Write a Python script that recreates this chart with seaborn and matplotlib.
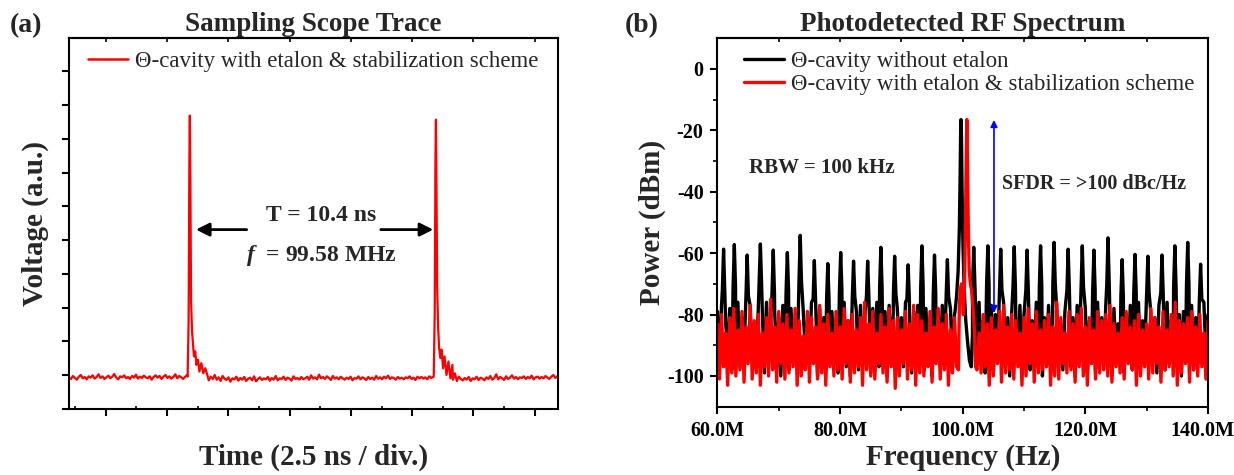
import numpy as np
import matplotlib
matplotlib.use("Agg")
import matplotlib.pyplot as plt
import matplotlib.transforms as mtransforms
import seaborn as sns

# ---------------- data: panel (a) sampling scope trace ----------------
T_START, T_END = 0.0, 20.0          # ns
scope_noise = [
    0.93, 0.88, 0.97, 0.91, 0.86, 0.95, 1.00, 0.90, 0.94, 0.87,
    0.96, 0.92, 0.99, 0.89, 0.94, 1.02, 0.91, 0.96, 0.88, 0.93,
    0.98, 0.90, 0.95, 1.03, 0.92, 0.87, 0.96, 0.93, 0.99, 0.90,
    0.94, 0.88, 0.97, 0.92, 1.01, 0.89, 0.95, 0.91, 0.98, 0.93,
    0.90, 0.96, 0.86, 0.94, 0.99, 0.92, 0.97, 0.88, 0.95, 1.00,
    0.91, 0.96, 0.89, 0.94, 1.02, 0.90, 0.97, 0.93, 0.88, 0.95,
    0.99, 0.92, 0.96, 0.90, 0.94, 0.98, 0.89, 0.93, 0.97, 0.91,
    1.05, 0.84, 0.95, 0.88, 1.00, 0.86, 0.93, 0.82, 0.97, 0.89,
    0.85, 0.93, 0.80, 0.90, 0.87, 0.95, 0.83, 0.91, 0.86, 0.94,
    0.82, 0.89, 0.92, 0.84, 0.96, 0.81, 0.88, 0.93, 0.85, 0.90,
    0.87, 0.94, 0.83, 0.91, 0.86, 0.97, 0.84, 0.90, 0.88, 0.95,
    0.85, 0.92, 0.89, 0.83, 0.96, 0.88, 0.91, 0.86, 0.94, 0.87,
    0.90, 0.95, 0.86, 0.99, 0.89, 0.93, 0.87, 1.01, 0.90, 0.94,
    0.88, 0.96, 0.91, 0.85, 0.97, 0.89, 0.93, 0.87, 0.95, 0.90,
    0.86, 0.92, 0.88, 0.95, 0.84, 0.91, 0.89, 0.96, 0.87, 0.93,
    0.90, 0.85, 0.94, 0.88, 0.92, 0.86, 0.97, 0.89, 0.93, 0.87,
    0.95, 0.90, 0.98, 0.88, 0.93, 0.91, 0.86, 0.94, 0.89, 0.92,
    0.87, 0.93, 0.90, 0.96, 0.88, 0.92, 0.85, 0.95, 0.90, 0.94,
    0.89, 0.93, 0.87, 0.96, 0.91, 0.94, 0.90, 0.88, 0.95, 0.92,
    1.02, 0.84, 0.97, 0.80, 0.93, 0.86, 1.05, 0.82, 0.95, 0.88,
    0.84, 0.91, 0.86, 0.94, 0.82, 0.90, 0.87, 0.95, 0.85, 0.92,
    0.89, 0.84, 0.93, 0.88, 0.97, 0.86, 0.91, 1.02, 0.87, 0.94,
    0.90, 0.85, 0.96, 0.88, 0.92, 0.99, 0.89, 0.94, 0.87, 0.93,
    0.91, 0.96, 0.88, 0.94, 0.90, 0.98, 0.87, 0.93, 0.95, 0.89,
    0.94, 0.90, 0.97, 0.92, 0.88, 0.95, 1.00, 0.91, 0.96, 0.93,
]
pulse1_t = [4.84, 4.88, 4.91, 4.93, 4.95, 4.98, 5.02, 5.06, 5.10, 5.15, 5.20, 5.26, 5.32, 5.40, 5.48, 5.56]
pulse1_v = [0.95, 2.60, 7.20, 8.69, 7.00, 3.20, 2.30, 1.90, 1.55, 1.70, 1.30, 1.45, 1.10, 1.35, 1.05, 1.20]
pulse2_t = [14.88, 14.92, 14.95, 14.97, 14.99, 15.02, 15.06, 15.10, 15.15, 15.20, 15.26, 15.32, 15.40, 15.48, 15.56, 15.64]
pulse2_v = [0.95, 2.80, 7.40, 8.57, 6.80, 3.60, 2.40, 1.80, 1.50, 1.75, 1.20, 1.55, 1.00, 1.40, 0.90, 1.30]
time_major_ticks = [1.5, 4.0, 6.5, 9.0, 11.5, 14.0, 16.5, 19.0]
time_minor_ticks = [0.25, 2.75, 5.25, 7.75, 10.25, 12.75, 15.25, 17.75]
volt_ticks = [0, 1, 2, 3, 4, 5, 6, 7, 8, 9, 10]

# ---------------- data: panel (b) RF spectrum ----------------
F_START_MHZ, F_END_MHZ = 60.0, 140.0
black_floor_db = [
    -79, -96, -77, -99, -82, -94, -78, -98, -80, -95,
    -76, -97, -81, -93, -79, -100, -77, -95, -83, -98,
    -78, -94, -80, -99, -76, -96, -82, -93, -79, -97,
    -81, -100, -77, -95, -80, -98, -78, -94, -83, -96,
    -77, -99, -79, -93, -82, -97, -76, -95, -80, -100,
    -78, -94, -81, -98, -77, -96, -79, -93, -83, -99,
    -80, -95, -76, -97, -82, -100, -78, -94, -79, -98,
    -77, -96, -81, -93, -80, -99, -78, -95, -76, -97,
    -82, -94, -79, -100, -77, -96, -80, -98, -78, -93,
    -81, -97, -76, -95, -83, -99, -79, -94, -77, -96,
    -80, -98, -78, -93, -82, -100, -76, -95, -79, -97,
    -77, -94, -81, -99, -78, -96, -80, -93, -83, -98,
    -79, -95, -77, -97, -81, -100, -78, -94, -76, -96,
    -82, -99, -79, -93, -77, -98, -80, -95, -78, -97,
    -76, -94, -81, -100, -79, -96, -83, -93, -77, -99,
    -80, -95, -78, -98, -82, -94, -76, -97, -79, -100,
    -81, -93, -77, -96, -80, -99, -78, -95, -83, -98,
    -79, -94, -76, -97, -81, -100, -77, -93, -80, -96,
    -78, -99, -82, -95, -79, -98, -76, -94, -81, -97,
    -77, -96, -80, -100, -78, -93, -83, -95, -79, -99,
    -81, -94, -77, -98, -80, -96, -76, -97, -82, -93,
    -78, -100, -79, -95, -81, -99, -77, -94, -80, -98,
    -76, -96, -82, -93, -78, -97, -80, -100, -79, -95,
    -83, -94, -77, -98, -81, -96, -78, -99, -76, -93,
    -80,
]
red_floor_db = [
    -83, -101, -80, -97, -86, -103, -81, -99, -78, -100,
    -85, -98, -79, -102, -84, -96, -77, -101, -82, -99,
    -80, -103, -86, -97, -81, -100, -75, -98, -84, -102,
    -79, -96, -83, -101, -80, -99, -85, -97, -78, -103,
    -82, -100, -87, -98, -79, -102, -81, -96, -84, -101,
    -77, -99, -83, -103, -80, -97, -86, -100, -79, -98,
    -84, -101, -78, -96, -82, -102, -80, -99, -85, -97,
    -81, -103, -76, -98, -83, -100, -79, -101, -86, -96,
    -80, -99, -84, -102, -78, -97, -82, -104, -81, -100,
    -85, -96, -79, -101, -83, -98, -77, -103, -80, -99,
    -82, -100, -86, -97, -79, -102, -84, -96, -78, -101,
    -83, -98, -80, -103, -85, -99, -81, -97, -76, -100,
    -84, -102, -79, -96, -82, -101, -78, -98, -86, -99,
    -80, -97, -83, -103, -81, -100, -85, -96, -79, -102,
    -77, -99, -84, -98, -80, -101, -82, -97, -86, -103,
    -81, -100, -78, -96, -83, -102, -79, -99, -85, -98,
    -82, -97, -80, -103, -84, -100, -76, -101, -81, -96,
    -86, -99, -79, -98, -83, -102, -80, -97, -78, -100,
    -84, -103, -81, -96, -85, -101, -79, -99, -82, -98,
    -80, -100, -77, -102, -83, -97, -86, -99, -81, -101,
    -79, -96, -84, -98, -82, -103, -80, -100, -85, -97,
    -83, -101, -78, -99, -81, -96, -84, -102, -79, -98,
    -85, -97, -80, -100, -76, -103, -82, -99, -83, -96,
    -81, -102, -79, -98, -84, -100, -80, -97, -86, -101,
    -82,
]
spur_mhz = [61.0, 62.75, 64.85, 67.0, 69.1, 71.4, 73.5, 75.8, 78.0, 80.1, 82.2, 84.5,
            86.65, 88.9, 91.1, 93.35, 95.4, 97.5, 101.8, 104.1, 106.2, 108.4, 110.5,
            112.7, 114.9, 117.2, 119.5, 121.4, 123.7, 126.0, 128.1, 130.2, 132.5,
            134.6, 136.7, 138.8]
spur_db = [-58.7, -57.2, -60.6, -57.0, -59.0, -59.8, -54.2, -62.4, -63.4, -59.8, -62.6, -62.6,
           -58.1, -61.0, -63.8, -57.6, -60.6, -62.1, -58.1, -57.6, -58.7, -57.9, -59.0,
           -57.6, -56.5, -58.7, -57.6, -59.0, -55.0, -62.1, -60.4, -61.0, -60.6,
           -57.6, -56.5, -63.6]
spur_shoulder_db = [-72, -71, -74, -70, -73, -72, -69, -75, -75, -72, -74, -74,
                    -71, -73, -75, -71, -73, -74, -71, -70, -72, -71, -72,
                    -71, -70, -72, -71, -72, -70, -74, -73, -73, -73,
                    -71, -70, -75]
SPUR_HALF_WIDTH_MHZ = 0.2
black_peak_mhz = [98.75, 99.0, 99.25, 99.45, 99.58, 99.66, 99.72, 99.8, 99.9, 100.05,
                  100.25, 100.5, 100.8, 101.1, 101.4, 101.6]
black_peak_db = [-79, -74, -66, -52, -35, -21, -16.5, -22, -40, -58,
                 -72, -82, -89, -95, -97, -86]
red_peak_mhz = [99.3, 99.45, 99.6, 99.8, 99.95, 100.1, 100.3, 100.45, 100.58, 100.67,
                100.76, 100.9, 101.05, 101.25, 101.45, 101.7, 101.9, 102.1]
red_peak_db = [-98, -78, -72, -70, -74, -80, -70, -50, -28, -16.5,
               -28, -50, -65, -70, -72, -78, -85, -97]
freq_major_mhz = [60, 80, 100, 120, 140]
freq_labels = ["60.0M", "80.0M", "100.0M", "120.0M", "140.0M"]
freq_minor_mhz = [70, 90, 110, 130]
power_ticks = [0, -20, -40, -60, -80, -100]
power_minor = [-10, -30, -50, -70, -90]

legend_a = "\u0398-cavity with etalon & stabilization scheme"
legend_b_black = "\u0398-cavity without etalon"
legend_b_red = "\u0398-cavity with etalon & stabilization scheme"


def merge(grid_x, grid_y, peaks):
    """Replace grid samples inside each peak window by that peak's samples."""
    grid_x = np.asarray(grid_x, float)
    grid_y = np.asarray(grid_y, float)
    keep = np.ones(len(grid_x), bool)
    xs, ys = [], []
    for px, py in peaks:
        keep &= ~((grid_x >= min(px)) & (grid_x <= max(px)))
        xs.append(np.asarray(px, float)); ys.append(np.asarray(py, float))
    x = np.concatenate([grid_x[keep]] + xs)
    y = np.concatenate([grid_y[keep]] + ys)
    o = np.argsort(x, kind="stable")
    return x[o], y[o]


# ---------------- style ----------------
sns.set_style("ticks")
plt.rcParams["font.family"] = ["Liberation Serif", "DejaVu Serif"]
plt.rcParams["mathtext.fontset"] = "custom"
plt.rcParams["mathtext.it"] = "Liberation Serif:italic:bold"
plt.rcParams["mathtext.rm"] = "Liberation Serif:bold"
plt.rcParams["axes.unicode_minus"] = False
plt.rcParams["axes.edgecolor"] = "black"
plt.rcParams["xtick.color"] = "black"
plt.rcParams["ytick.color"] = "black"

fig = plt.figure(figsize=(12.34, 4.75), dpi=100)
axA = fig.add_axes([0.0559, 0.1396, 0.3963, 0.7810])
axB = fig.add_axes([0.5814, 0.1438, 0.3975, 0.7756])

# ---------------- panel (a) ----------------
t_grid = np.linspace(T_START, T_END, len(scope_noise))
tx, vy = merge(t_grid, scope_noise, [(pulse1_t, pulse1_v), (pulse2_t, pulse2_v)])
sns.lineplot(x=tx, y=vy, ax=axA, color="#ff0000", linewidth=1.6,
             estimator=None, sort=False, label=legend_a)
axA.set_xlim(0, 19.95)
axA.set_ylim(0, 11)
axA.set_xticks(time_major_ticks)
axA.set_xticks(time_minor_ticks, minor=True)
axA.set_yticks(volt_ticks)
axA.tick_params(axis="x", which="major", direction="out", length=5, width=1.5, labelbottom=False)
axA.tick_params(axis="x", which="minor", direction="in", length=2.5, width=1.2)
axA.tick_params(axis="y", which="major", direction="out", length=5, width=1.5, labelleft=False)
secA = axA.secondary_xaxis("top")
secA.set_xticks(time_major_ticks)
secA.tick_params(direction="in", length=3, width=1.2, labeltop=False)
for sp in list(axA.spines.values()) + list(secA.spines.values()):
    sp.set_linewidth(1.5)
axA.set_xlabel("Time (2.5 ns / div.)", fontsize=21, fontweight="bold")
axA.set_ylabel("Voltage (a.u.)", fontsize=21, fontweight="bold")
axA.xaxis.set_label_coords(0.5, -0.095)
axA.yaxis.set_label_coords(-0.040, 0.5)
axA.set_title("Sampling Scope Trace", fontsize=19.5, fontweight="bold", pad=5)
legA = axA.legend(loc="upper left", bbox_to_anchor=(0.039, 0.965), frameon=False, fontsize=16.5,
                  handlelength=1.75, handletextpad=0.3, borderaxespad=0, borderpad=0)
for h in legA.get_lines():
    h.set_linewidth(1.8)

axA.annotate("", xy=(5.18, 5.31), xytext=(7.25, 5.31),
             arrowprops=dict(arrowstyle="-|>", color="black", lw=2, mutation_scale=20,
                             shrinkA=0, shrinkB=0))
axA.annotate("", xy=(14.86, 5.31), xytext=(12.72, 5.31),
             arrowprops=dict(arrowstyle="-|>", color="black", lw=2, mutation_scale=20,
                             shrinkA=0, shrinkB=0))
axA.text(10.27, 5.73, "T = 10.4 ns", ha="center", va="center", fontsize=17, fontweight="bold")
axA.text(10.3, 4.55, r"$f$  = 99.58 MHz", ha="center", va="center", fontsize=17, fontweight="bold")

# ---------------- panel (b) ----------------
f_grid = np.linspace(F_START_MHZ, F_END_MHZ, len(black_floor_db))
spur_parts = [([f - SPUR_HALF_WIDTH_MHZ, f, f + SPUR_HALF_WIDTH_MHZ], [s, top, s])
              for f, top, s in zip(spur_mhz, spur_db, spur_shoulder_db)]
bx, by = merge(f_grid, black_floor_db, [(black_peak_mhz, black_peak_db)] + spur_parts)
rx, ry = merge(f_grid, red_floor_db, [(red_peak_mhz, red_peak_db)])
sns.lineplot(x=bx * 1e6, y=by, ax=axB, color="black", linewidth=2.4,
             estimator=None, sort=False, label=legend_b_black)
sns.lineplot(x=rx * 1e6, y=ry, ax=axB, color="#ff0000", linewidth=2.4,
             estimator=None, sort=False, label=legend_b_red)
axB.set_xlim(F_START_MHZ * 1e6, F_END_MHZ * 1e6)
axB.set_ylim(-110, 10)
axB.set_xticks([m * 1e6 for m in freq_major_mhz])
axB.set_xticklabels(freq_labels)
axB.set_xticks([m * 1e6 for m in freq_minor_mhz], minor=True)
axB.set_yticks(power_ticks)
axB.set_yticklabels([str(v) for v in power_ticks])
axB.set_yticks(power_minor, minor=True)
axB.tick_params(which="major", direction="out", length=5, width=1.5, labelsize=14.5, pad=5)
axB.tick_params(which="minor", direction="out", length=3, width=1.2)
for lab in axB.get_xticklabels() + axB.get_yticklabels():
    lab.set_fontweight("bold")
# nudge the last frequency label so it stays inside the figure
last = axB.get_xticklabels()[-1]
last.set_transform(last.get_transform() +
                   mtransforms.ScaledTranslation(-6 / 100, 0, fig.dpi_scale_trans))
secB = axB.secondary_xaxis("top")
secB.set_xticks([m * 1e6 for m in sorted(freq_major_mhz + freq_minor_mhz)])
secB.tick_params(direction="in", length=3, width=1.2, labeltop=False)
for sp in list(axB.spines.values()) + list(secB.spines.values()):
    sp.set_linewidth(1.5)
axB.set_xlabel("Frequency (Hz)", fontsize=21, fontweight="bold")
axB.set_ylabel("Power (dBm)", fontsize=21, fontweight="bold")
axB.xaxis.set_label_coords(0.5, -0.10)
axB.yaxis.set_label_coords(-0.105, 0.5)
axB.set_title("Photodetected RF Spectrum", fontsize=19.5, fontweight="bold", pad=5)
leg = axB.legend(loc="upper left", bbox_to_anchor=(0.054, 0.966), frameon=False, fontsize=16.5,
                 handlelength=1.75, handletextpad=0.3, borderaxespad=0, borderpad=0,
                 labelspacing=0.1)
for h in leg.get_lines():
    h.set_linewidth(2.4)

axB.annotate("", xy=(105.1e6, -16.6), xytext=(105.1e6, -79.5),
             arrowprops=dict(arrowstyle="<|-|>", color="#0000ff", lw=1.2, mutation_scale=10,
                             shrinkA=0, shrinkB=0))
axB.text(65.1e6, -32.4, "RBW = 100 kHz", ha="left", va="center", fontsize=15, fontweight="bold")
axB.text(106.4e6, -37.6, "SFDR = >100 dBc/Hz", ha="left", va="center", fontsize=14.5,
         fontweight="bold")

fig.text(0.008, 0.947, "(a)", fontsize=20, fontweight="bold", va="center", ha="left")
fig.text(0.506, 0.947, "(b)", fontsize=20, fontweight="bold", va="center", ha="left")

fig.savefig("out.png", dpi=100)
